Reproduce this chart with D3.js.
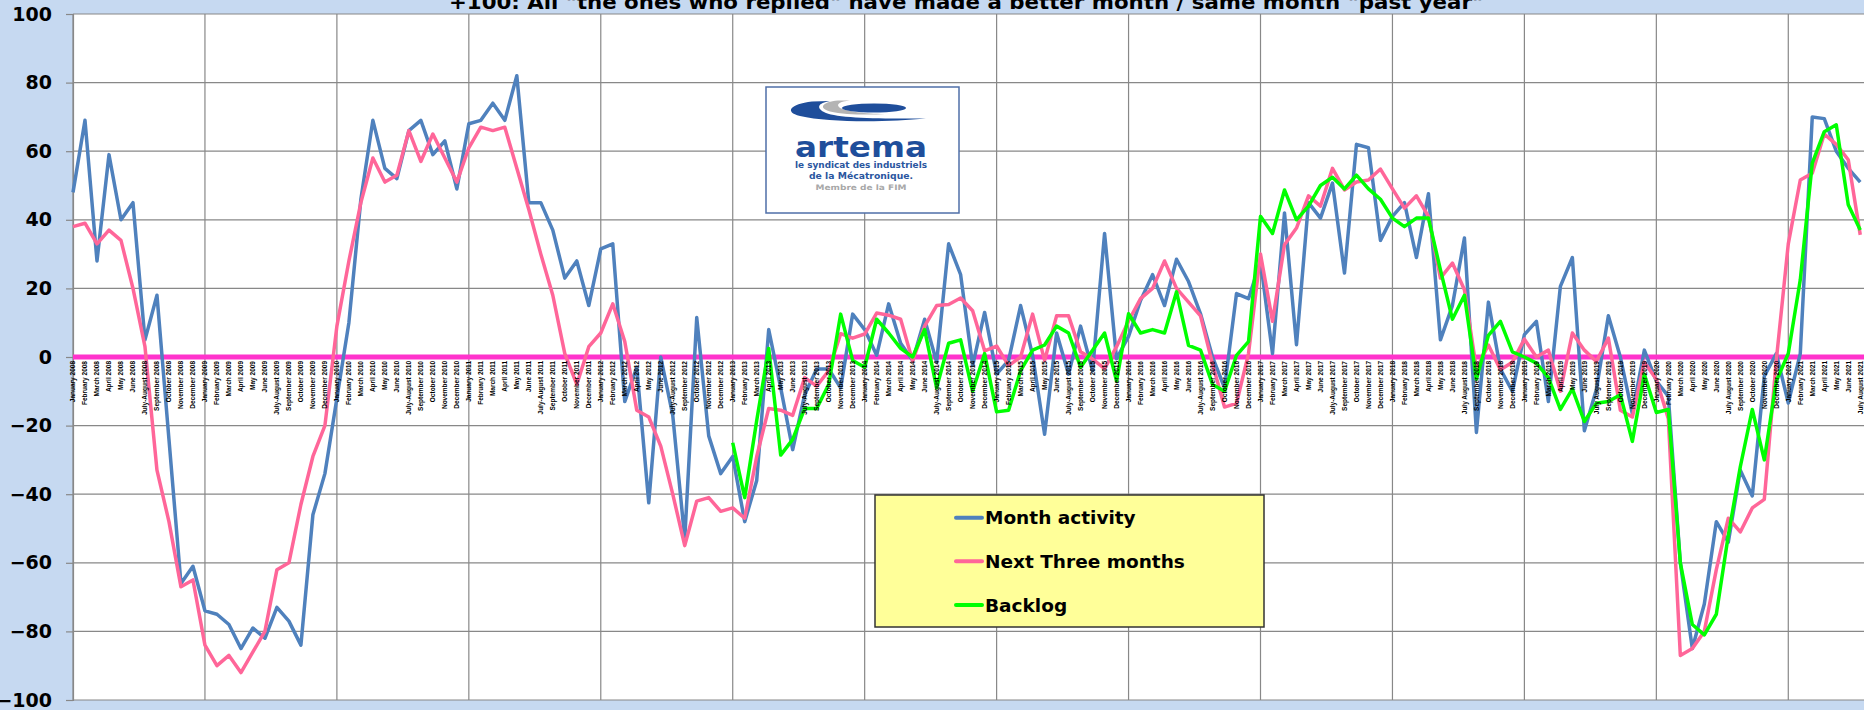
<!DOCTYPE html>
<html>
<head>
<meta charset="utf-8">
<script src="https://cdn.jsdelivr.net/npm/d3@7"></script>
<style>
body { margin: 0; background: #c6d9f1; overflow: hidden; }
</style>
</head>
<body>
<div id="chart"></div>
<script>
var month_names = ["January", "February", "March", "April", "May", "June", "July-August",
	"September", "October", "November", "December"];
var years = [2008, 2009, 2010, 2011, 2012, 2013, 2014, 2015, 2016, 2017, 2018, 2019, 2020, 2021];
var y_ticks = [-100, -80, -60, -40, -20, 0, 20, 40, 60, 80, 100];

var categories = [];
years.forEach(function(yr) {
	month_names.forEach(function(m, k) {
		if (yr == 2021 && k > 6) return;
		if (yr >= 2018 && m == "July-August") m = "July August";
		categories.push(m + " " + yr);
	});
});

var month_activity = [
	48, 69, 28, 59, 40, 45, 5, 18, -24, -66, -61,
	-74, -75, -78, -85, -79, -82, -73, -77, -84, -46, -34,
	-12, 10, 46, 69, 55, 52, 66, 69, 59, 63, 49,
	68, 69, 74, 69, 82, 45, 45, 37, 23, 28, 15,
	31.5, 33, -13, -3, -42.5, 0, -17, -53, 11.5, -23, -34,
	-29, -48, -36, 8, -9, -27, -11, -3.5, -3.5, -9, 12.5,
	8, 0.5, 15.5, 4, -1, 11, -1.5, 33, 24, -2.5, 13,
	-5, -1, 15, 0.5, -22.5, 7, -5, 9, -4, 36, -0.5,
	6, 16.5, 24, 15, 28.5, 22, 12.6, 0, -9, 18.5, 17,
	28, 1, 42, 3.6, 45, 40.5, 50.7, 24.5, 62, 61, 34,
	41, 45, 29, 47.6, 5, 15, 34.7, -22, 16, -3.5, -10,
	6.5, 10.4, -13, 20.6, 29, -21.5, -9.5, 12, 0, -16.5, 2,
	-7, -11.5, -60, -85, -72, -48, -54, -33, -40.5, -5.6, 1,
	-13.4, 1, 70, 69.5, 60, 55, 51
];

var next_three_months = [
	38, 39, 33, 37, 34, 20, 3, -33, -48, -67, -65,
	-84, -90, -87, -92, -86, -80, -62, -60, -43, -29, -20,
	9, 28, 45, 58, 51, 53, 66, 57, 65, 58, 51,
	61, 67, 66, 67, 55, 43, 30, 18, 1, -8, 3,
	7, 15.5, 4.5, -15.5, -17.5, -26, -40, -55, -42, -41, -45,
	-44, -47, -29, -15, -15.5, -17, -6, -8.5, -4, 6.8, 5.5,
	6.7, 12.8, 12.2, 11, -1.2, 9, 15, 15.3, 17.2, 13.5, 1.8,
	3.2, -2.5, 0, 12.5, -1, 12, 12, 1.5, -0.6, -3.4, 3,
	10.5, 17, 20, 28, 20, 16, 12, -2, -14.6, -13.5, 1,
	30, 10.4, 32.7, 37.6, 47, 44, 55, 48.7, 51, 51.6, 54.8,
	49, 43.4, 47, 41, 23, 27.4, 19.6, -3.5, 3.5, -3.7, -1.5,
	5.2, 0, 2, -10, 7, 2, -1.3, 5.5, -15.5, -17.5, -1.5,
	-6.5, -18, -87, -85, -80, -62, -47, -51, -44, -41.5, -1,
	33, 51.6, 53.6, 65, 62, 57.5, 35.6
];

// backlog is only surveyed from January 2013
var backlog_start = "January 2013";
var backlog = [
	-25, -41, -18.5, 2.5, -28.6, -24, -15, -15, -8, 12.5, -1,
	-3, 11, 7, 2.5, 0, 8, -9, 4, 5, -10, 1,
	-16, -15.5, -4, 2, 3.5, 9, 7, -3, 2, 7, -7,
	12.6, 7, 8, 7, 19, 3.4, 2, -8, -10, 0.5, 4.5,
	41, 36, 48.7, 40, 44, 50, 52.4, 49, 53, 49, 46,
	40.5, 38, 40.5, 40.5, 25.4, 11, 18, -6.5, 6.3, 10.4, 1.5,
	0, -1.8, -6, -15.3, -9.3, -18.8, -13.5, -13, -11, -24.6, -5,
	-16.2, -15.3, -60, -78, -81, -75, -52, -32, -15.3, -30, -7,
	1, 22.5, 56.5, 65.7, 67.7, 44.4, 37
];

var series_names = ["Month activity", "Next Three months", "Backlog"];
var series_colors = ["#4f81bd", "#ff6699", "#00ff00"];

var title_text = '+100: All "the ones who replied" have made a better month / same month "past year"';

function month_chart(margin, width, height, tag) {
	this.margin = margin;
	this.width = width;
	this.height = height;
	this.tag = tag;
	this.svg = d3.select(tag)
		.append("svg")
		.attr("width", width)
		.attr("height", height);
	this.step = 11.995;
	this.init();
}

month_chart.prototype = {
	init : function() {
		var self = this;
		var m = self.margin;
		self.x = d3.scalePoint()
			.domain(categories)
			.range([m.left, m.left + self.step * (categories.length - 1)]);
		self.y = d3.scaleLinear()
			.domain([-100, 100])
			.range([self.height - m.bottom, m.top]);

		var off = categories.indexOf(backlog_start);
		self.series = [month_activity, next_three_months].map(function(vals) {
			return categories.map(function(c, i) { return {c : c, v : vals[i]}; });
		});
		self.series.push(categories.map(function(c, i) {
			return {c : c, v : i < off ? null : backlog[i - off]};
		}));
	},
	draw : function() {
		var self = this;
		var m = self.margin;
		var svg = self.svg;
		var x = self.x, y = self.y;
		var top = m.top, bottom = self.height - m.bottom;

		svg.append("rect")
			.attr("width", self.width)
			.attr("height", self.height)
			.attr("fill", "#c6d9f1");

		svg.append("rect")
			.attr("x", m.left)
			.attr("y", top)
			.attr("width", self.width - m.left)
			.attr("height", bottom - top)
			.attr("fill", "#ffffff");

		// gridlines
		svg.append("g").selectAll("line.h")
			.data(y_ticks)
			.enter()
			.append("line")
			.attr("x1", m.left)
			.attr("x2", self.width)
			.attr("y1", function(d) { return y(d); })
			.attr("y2", function(d) { return y(d); })
			.attr("stroke", "#888888")
			.attr("stroke-width", 1.2);

		svg.append("g").selectAll("line.v")
			.data(categories.filter(function(c, i) { return i % 11 == 0; }))
			.enter()
			.append("line")
			.attr("x1", function(d) { return x(d); })
			.attr("x2", function(d) { return x(d); })
			.attr("y1", top)
			.attr("y2", bottom)
			.attr("stroke", "#888888")
			.attr("stroke-width", 1.2);

		var yAxis = svg.append("g")
			.attr("transform", "translate(" + m.left + ",0)")
			.call(d3.axisLeft(y).tickValues(y_ticks).tickSize(7).tickPadding(14));
		yAxis.select(".domain").attr("stroke", "#888888").attr("stroke-width", 1.2);
		yAxis.selectAll(".tick line").attr("stroke", "#888888").attr("stroke-width", 1.2);
		yAxis.selectAll(".tick text")
			.style("font-family", "DejaVu Sans")
			.style("font-weight", "bold")
			.style("font-size", "19px")
			.attr("fill", "#000000");

		svg.append("line")
			.attr("x1", m.left)
			.attr("x2", self.width)
			.attr("y1", y(0))
			.attr("y2", y(0))
			.attr("stroke", "#ff33cc")
			.attr("stroke-width", 5);

		var line = d3.line()
			.defined(function(d) { return d.v != null; })
			.x(function(d) { return x(d.c); })
			.y(function(d) { return y(d.v); });

		svg.append("g").selectAll("path.series")
			.data(self.series)
			.enter()
			.append("path")
			.attr("class", "series")
			.attr("d", line)
			.attr("fill", "none")
			.attr("stroke", function(d, i) { return series_colors[i]; })
			.attr("stroke-width", 3.5)
			.attr("stroke-linejoin", "round");

		svg.append("g").selectAll("text.cat")
			.data(categories)
			.enter()
			.append("text")
			.attr("class", "cat")
			.attr("transform", function(d) {
				return "translate(" + x(d) + "," + (y(0) + 4) + ") rotate(-90)";
			})
			.attr("text-anchor", "end")
			.attr("dy", "0.35em")
			.style("font-family", "Liberation Sans")
			.style("font-weight", "bold")
			.style("font-size", "6.5px")
			.style("fill", "black")
			.text(function(d) { return d; });

		svg.append("text")
			.attr("x", 449)
			.attr("y", 9)
			.attr("textLength", 1034)
			.attr("lengthAdjust", "spacingAndGlyphs")
			.style("font-family", "DejaVu Sans")
			.style("font-weight", "bold")
			.style("font-size", "19.5px")
			.text(title_text);

		self.draw_logo();
		self.draw_legend();
	},
	draw_logo : function() {
		var g = this.svg.append("g");
		g.append("rect")
			.attr("x", 766).attr("y", 87)
			.attr("width", 193).attr("height", 126)
			.attr("fill", "#ffffff")
			.attr("stroke", "#4f6fa8")
			.attr("stroke-width", 1.5);
		g.append("path")
			.attr("d", "M812,101.5 C790,104 784,112 800,116 C830,123 890,122 926,118.5 C880,119 838,118 826,113 C815,108 818,103 830,101 Z")
			.attr("fill", "#1f4e9b");
		g.append("path")
			.attr("d", "M838,100.5 C822,102 818,108 830,111.5 C845,115 870,115 885,114 C865,114 846,111 840,108 C835,104 840,101.5 850,100.5 Z")
			.attr("fill", "#b4b4b4");
		g.append("ellipse")
			.attr("cx", 874).attr("cy", 108)
			.attr("rx", 32).attr("ry", 4.5)
			.attr("fill", "#1f4e9b");
		var lines = [
			{t : "artema", y : 157, s : 29, w : 132, c : "#1f4e9b"},
			{t : "le syndicat des industriels", y : 168, s : 8, w : 132, c : "#2a56a0"},
			{t : "de la Mécatronique.", y : 178.5, s : 8, w : 104, c : "#2a56a0"},
			{t : "Membre de la FIM", y : 189.5, s : 7.5, w : 91, c : "#a8a8a8"}
		];
		g.selectAll("text")
			.data(lines)
			.enter()
			.append("text")
			.attr("x", function(d) { return 861 - d.w / 2; })
			.attr("y", function(d) { return d.y; })
			.attr("textLength", function(d) { return d.w; })
			.attr("lengthAdjust", "spacingAndGlyphs")
			.style("font-family", "DejaVu Sans")
			.style("font-weight", "bold")
			.style("font-size", function(d) { return d.s + "px"; })
			.style("fill", function(d) { return d.c; })
			.text(function(d) { return d.t; });
	},
	draw_legend : function() {
		var g = this.svg.append("g");
		g.append("rect")
			.attr("x", 875).attr("y", 495)
			.attr("width", 389).attr("height", 132)
			.attr("fill", "#ffff99")
			.attr("stroke", "#333333")
			.attr("stroke-width", 1.5);
		var item = g.selectAll("g.item")
			.data(series_names)
			.enter()
			.append("g")
			.attr("class", "item")
			.attr("transform", function(d, i) {
				return "translate(0," + (517.7 + i * 43.6) + ")";
			});
		item.append("line")
			.attr("x1", 956).attr("x2", 982)
			.attr("stroke", function(d, i) { return series_colors[i]; })
			.attr("stroke-width", 4)
			.attr("stroke-linecap", "round");
		item.append("text")
			.attr("x", 985)
			.attr("dy", "0.36em")
			.style("font-family", "DejaVu Sans")
			.style("font-weight", "bold")
			.style("font-size", "18.5px")
			.style("fill", "#000000")
			.text(function(d) { return d; });
	}
};

var chart = new month_chart({top : 14, right : 0, bottom : 10, left : 73}, 1864, 710, "#chart");
chart.draw();
</script>
</body>
</html>
